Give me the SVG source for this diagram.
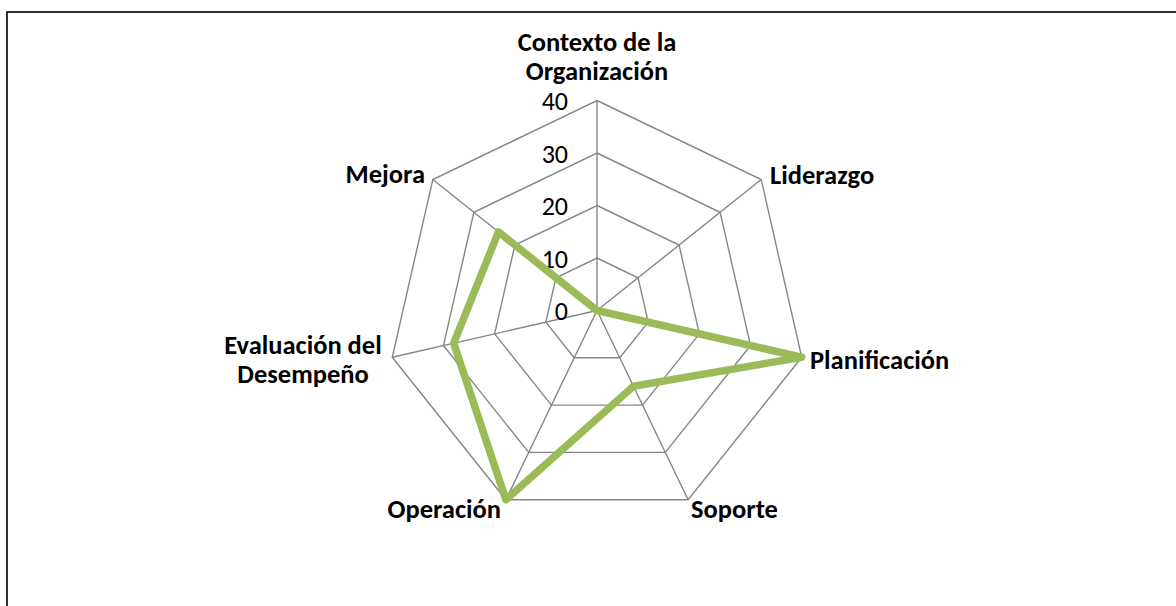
<svg xmlns="http://www.w3.org/2000/svg" width="1176" height="606" viewBox="0 0 1176 606">
<style>
.grid{fill:none;stroke:#868686;stroke-width:1.4}
.tick{font-family:Carlito,Lato,"Liberation Sans",sans-serif;font-size:26px;fill:#000;text-anchor:end}
.cat{font-family:Carlito,Lato,"Liberation Sans",sans-serif;font-size:26.5px;font-weight:bold;fill:#000}
.series{fill:none;stroke:#9BBB59;stroke-width:7.5;stroke-linejoin:round;stroke-linecap:round}
</style>
<rect x="0" y="0" width="1176" height="606" fill="#fff"/>
<rect x="7" y="12" width="1200" height="700" fill="#fff" stroke="#000" stroke-width="1.6"/>
<g id="grid">
<polygon class="grid" points="597,258 638.05,277.77 648.18,322.18 619.78,357.8 574.22,357.8 545.82,322.18 555.95,277.77"/>
<polygon class="grid" points="597,205.5 679.09,245.03 699.37,333.86 642.56,405.1 551.44,405.1 494.63,333.86 514.91,245.03"/>
<polygon class="grid" points="597,153 720.14,212.3 750.55,345.55 665.34,452.4 528.66,452.4 443.45,345.55 473.86,212.3"/>
<polygon class="grid" points="597,100.5 761.18,179.57 801.74,357.23 688.11,499.7 505.89,499.7 392.26,357.23 432.82,179.57"/>
<path class="grid" d="M597,310.5L597,100.5M597,310.5L761.18,179.57M597,310.5L801.74,357.23M597,310.5L688.11,499.7M597,310.5L505.89,499.7M597,310.5L392.26,357.23M597,310.5L432.82,179.57"/>
</g>
<g id="ticks">
<text class="tick" x="568" y="320">0</text>
<text class="tick" x="568" y="267.5">10</text>
<text class="tick" x="568" y="215">20</text>
<text class="tick" x="568" y="162.5">30</text>
<text class="tick" x="568" y="110">40</text>
</g>
<g id="connectors">
<polygon class="series" points="597,310.5 597,310.5 801.74,357.23 633.45,386.18 505.89,499.7 453.69,343.21 498.49,231.94"/>
</g>
<g id="node-contexto"><text class="cat" x="597" y="51" text-anchor="middle">Contexto de la</text><text class="cat" x="597" y="80" text-anchor="middle">Organización</text></g>
<g id="node-liderazgo"><text class="cat" x="770" y="184">Liderazgo</text></g>
<g id="node-planificacion"><text class="cat" x="810" y="369">Planificación</text></g>
<g id="node-soporte"><text class="cat" x="691" y="518">Soporte</text></g>
<g id="node-operacion"><text class="cat" x="501" y="518" text-anchor="end">Operación</text></g>
<g id="node-evaluacion"><text class="cat" x="303" y="354" text-anchor="middle">Evaluación del</text><text class="cat" x="303" y="383" text-anchor="middle">Desempeño</text></g>
<g id="node-mejora"><text class="cat" x="425" y="183" text-anchor="end">Mejora</text></g>
</svg>
